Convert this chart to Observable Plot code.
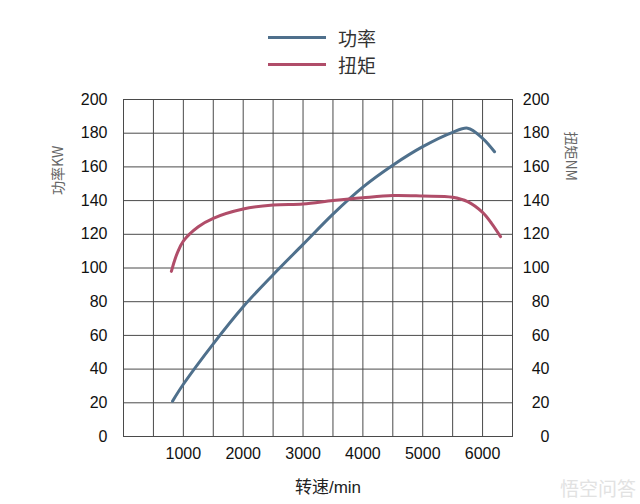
<!DOCTYPE html>
<html>
<head>
<meta charset="utf-8">
<script src="https://cdn.jsdelivr.net/npm/d3@7"></script>
<script src="https://cdn.jsdelivr.net/npm/@observablehq/plot@0.6"></script>
<style>
  html, body { margin: 0; padding: 0; background: #fff; }
  #wrap { position: relative; width: 640px; height: 504px; font-family: "Liberation Sans", "Noto Sans CJK SC", sans-serif; }
  .leg { position: absolute; left: 268px; display: flex; align-items: center; font-size: 19px; color: #333; font-family: "Noto Sans CJK SC", sans-serif; }
  .leg span.ln { display: inline-block; width: 58px; height: 3px; margin-right: 12px; }
  .wm { position: absolute; left: 560px; top: 474px; font-size: 19px; color: #e2e2e2; font-family: "Noto Sans CJK SC", sans-serif; }
</style>
</head>
<body>
<div id="wrap"></div>
<script>
// Data
const seriesNames = ["功率", "扭矩"];
const seriesColors = ["#4f708c", "#b04d69"];
const powerRpm = [820, 1000, 1500, 2000, 2500, 3000, 3500, 4000, 4500, 5000, 5500, 5750, 6000, 6200];
const powerKW  = [21, 31, 55, 77, 96, 114, 132, 148, 161, 172, 180.5, 183, 177, 169];
const torqueRpm = [800, 850, 900, 1000, 1250, 1500, 2000, 2500, 3000, 3500, 4000, 4500, 5000, 5500, 5750, 6000, 6150, 6300];
const torqueNM  = [98, 104, 109, 116, 124.5, 129.5, 135, 137.4, 138, 140, 141.7, 143, 142.7, 142, 139.4, 133, 126.5, 118.6];
const xTicks = [1000, 2000, 3000, 4000, 5000, 6000];
const xGrid = d3.range(0, 6501, 500);
const yTicks = d3.range(0, 201, 20);
const xTitle = "转速/min";
const yLeftTitle = "功率KW";
const yRightTitle = "扭矩NM";

const power = powerRpm.map((r, i) => ({rpm: r, v: powerKW[i]}));
const torque = torqueRpm.map((r, i) => ({rpm: r, v: torqueNM[i]}));

const chart = Plot.plot({
  width: 640,
  height: 504,
  marginLeft: 123,
  marginRight: 128,
  marginTop: 99,
  marginBottom: 68,
  style: {fontFamily: "'Liberation Sans', 'Noto Sans CJK SC', sans-serif", background: "#fff"},
  x: {domain: [0, 6500]},
  y: {domain: [0, 200]},
  marks: [
    Plot.gridX(xGrid, {stroke: "#4a4a4a", strokeOpacity: 1, strokeWidth: 1}),
    Plot.gridY(yTicks, {stroke: "#4a4a4a", strokeOpacity: 1, strokeWidth: 1}),
    Plot.frame({stroke: "#4a4a4a", strokeWidth: 1}),
    Plot.axisX(xTicks, {tickSize: 0, tickPadding: 11, fontSize: 16, fill: "#111", label: null, tickFormat: d => String(d)}),
    Plot.axisY(yTicks, {anchor: "left", tickSize: 0, tickPadding: 16, fontSize: 16, fill: "#111", label: null}),
    Plot.axisY(yTicks, {anchor: "right", tickSize: 0, tickPadding: 0, dx: 37, textAnchor: "end", fontSize: 16, fill: "#111", label: null}),
    Plot.line(power, {x: "rpm", y: "v", stroke: seriesColors[0], strokeWidth: 3, curve: "catmull-rom"}),
    Plot.line(torque, {x: "rpm", y: "v", stroke: seriesColors[1], strokeWidth: 3, curve: "catmull-rom"}),
    Plot.text([xTitle], {frameAnchor: "bottom", dx: 10, dy: 51, lineAnchor: "middle", fontSize: 17, fill: "#222"}),
    Plot.text([yLeftTitle], {frameAnchor: "left", dx: -65, dy: -73, rotate: -90, fontSize: 14, fill: "#666", fontFamily: "'Noto Sans CJK SC', sans-serif"}),
    Plot.text([yRightTitle], {frameAnchor: "right", dx: 58, dy: -87, rotate: 90, fontSize: 14, fill: "#666", fontFamily: "'Noto Sans CJK SC', sans-serif"})
  ]
});

const wrap = document.getElementById("wrap");
wrap.appendChild(chart);

// Legend
const legendTops = [24, 51];
seriesNames.forEach((name, i) => {
  const row = document.createElement("div");
  row.className = "leg";
  row.style.top = legendTops[i] + "px";
  row.innerHTML = `<span class="ln" style="background:${seriesColors[i]}"></span><span>${name}</span>`;
  wrap.appendChild(row);
});
const wm = document.createElement("div");
wm.className = "wm";
wm.textContent = "悟空问答";
wrap.appendChild(wm);
</script>
</body>
</html>
